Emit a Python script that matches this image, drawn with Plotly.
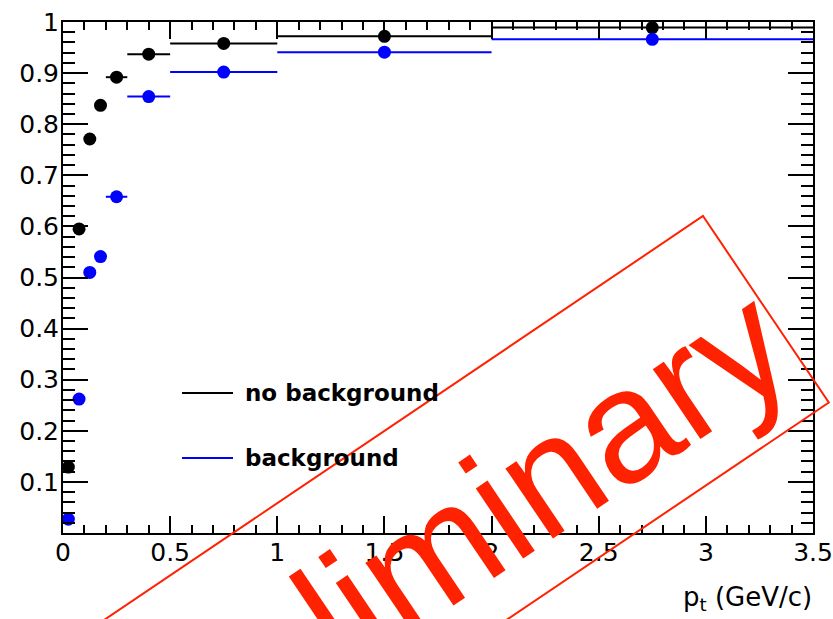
import math
import plotly.graph_objects as go

# pt bins (GeV/c) and reconstruction efficiencies
bin_lo = [0.0, 0.05, 0.10, 0.15, 0.20, 0.30, 0.50, 1.00, 2.00]
bin_hi = [0.05, 0.10, 0.15, 0.20, 0.30, 0.50, 1.00, 2.00, 3.50]
eff_no_background = [0.129, 0.595, 0.771, 0.837, 0.892, 0.937, 0.958, 0.972, 0.989]
eff_background = [0.027, 0.262, 0.510, 0.541, 0.658, 0.854, 0.902, 0.941, 0.966]

series_names = ["no background", "background"]
series_colors = ["#000000", "#0000ff"]

x_tick_vals = [0, 0.5, 1, 1.5, 2, 2.5, 3, 3.5]
x_tick_text = ["0", "0.5", "1", "1.5", "2", "2.5", "3", "3.5"]
y_tick_vals = [0.1, 0.2, 0.3, 0.4, 0.5, 0.6, 0.7, 0.8, 0.9, 1.0]
y_tick_text = ["0.1", "0.2", "0.3", "0.4", "0.5", "0.6", "0.7", "0.8", "0.9", "1"]

centers = [(a + b) / 2 for a, b in zip(bin_lo, bin_hi)]
half_widths = [(b - a) / 2 for a, b in zip(bin_lo, bin_hi)]

W, H = 833, 619
ML, MR, MT, MB = 63, 20, 22, 86
PW, PH = W - ML - MR, H - MT - MB


def to_paper(px, py):
    return (px - ML) / PW, (H - MB - py) / PH


fig = go.Figure()
for name, color, vals in zip(series_names, series_colors,
                             [eff_no_background, eff_background]):
    fig.add_trace(go.Scatter(
        x=centers, y=vals, mode="markers", name=name,
        marker=dict(symbol="circle", size=13, color=color),
        error_x=dict(type="data", array=half_widths, symmetric=True,
                     color=color, thickness=2, width=0),
        cliponaxis=False, showlegend=False,
    ))

axis_common = dict(
    showgrid=False, zeroline=False, showline=True, linecolor="black",
    linewidth=2, mirror="ticks", ticks="inside", tickcolor="black",
    tickwidth=2, automargin=False,
    tickfont=dict(family="DejaVu Sans", size=25, color="black"),
)
fig.update_xaxes(range=[0, 3.5], tickvals=x_tick_vals, ticktext=x_tick_text,
                 ticklen=17, ticklabelstandoff=-4,
                 minor=dict(ticks="inside", dtick=0.1, ticklen=8,
                            tickwidth=2, tickcolor="black"),
                 **axis_common)
fig.update_yaxes(range=[0, 1], tickvals=y_tick_vals, ticktext=y_tick_text,
                 ticklen=25, ticklabelstandoff=-3,
                 minor=dict(ticks="inside", dtick=0.02, ticklen=12,
                            tickwidth=2, tickcolor="black"),
                 **axis_common)

shapes = []
annotations = []

# legend: line samples with labels
legend_rows = [393, 458]
for name, color, py in zip(series_names, series_colors, legend_rows):
    x0, y0 = to_paper(182, py)
    x1, _ = to_paper(233, py)
    shapes.append(dict(type="line", xref="paper", yref="paper",
                       x0=x0, x1=x1, y0=y0, y1=y0,
                       line=dict(color=color, width=2)))
    tx, _ = to_paper(243, py)
    annotations.append(dict(text=name, xref="paper", yref="paper", x=tx, y=y0,
                            xanchor="left", yanchor="middle", showarrow=False,
                            font=dict(family="DejaVu Sans", size=23,
                                      color="black", weight="bold")))

# axis title
tx, ty = to_paper(814, 598)
annotations.append(dict(text="p<sub>t</sub> (GeV/c)", xref="paper", yref="paper",
                        x=tx, y=ty, xanchor="right", yanchor="middle",
                        showarrow=False,
                        font=dict(family="DejaVu Sans", size=26, color="black")))

# rotated "Preliminary" stamp
stamp_color = "#ff2200"
ang = math.radians(34)
ux, uy = math.cos(ang), -math.sin(ang)
vx, vy = math.sin(ang), math.cos(ang)
corner = (703, 216)
short_side, long_side = 225, 820
pts = [
    corner,
    (corner[0] + short_side * vx, corner[1] + short_side * vy),
    (corner[0] + short_side * vx - long_side * ux,
     corner[1] + short_side * vy - long_side * uy),
    (corner[0] - long_side * ux, corner[1] - long_side * uy),
]
path = "M " + " L ".join("%.5f,%.5f" % to_paper(*p) for p in pts) + " Z"
shapes.append(dict(type="path", path=path, xref="paper", yref="paper",
                   line=dict(color=stamp_color, width=2), layer="above"))

cx = corner[0] - 405 * ux + 128 * vx
cy = corner[1] - 405 * uy + 128 * vy
sx, sy = to_paper(cx, cy)
annotations.append(dict(text="Preliminary", xref="paper", yref="paper",
                        x=sx, y=sy, xanchor="center", yanchor="middle",
                        textangle=-34, showarrow=False,
                        font=dict(family="Liberation Sans", size=160,
                                  color=stamp_color)))

fig.update_layout(
    width=W, height=H, margin=dict(l=ML, r=MR, t=MT, b=MB),
    paper_bgcolor="white", plot_bgcolor="white",
    shapes=shapes, annotations=annotations, showlegend=False,
)

fig.write_html("out.html")
